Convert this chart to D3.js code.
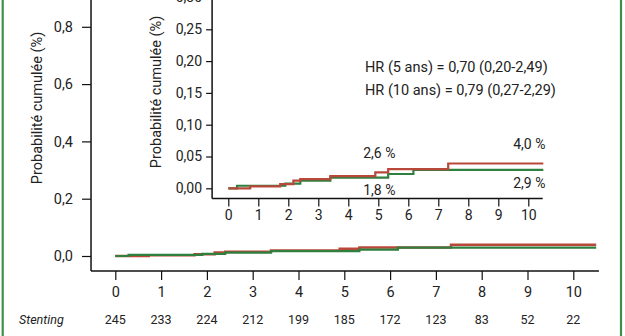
<!DOCTYPE html>
<html>
<head>
<meta charset="utf-8">
<script src="https://cdn.jsdelivr.net/npm/d3@7"></script>
<style>
  html, body { margin: 0; padding: 0; background: #fff; }
  svg { display: block; }
  text { font-family: Roboto, "DejaVu Sans", sans-serif; fill: #222; }
</style>
</head>
<body>
<svg id="chart" width="625" height="336"></svg>
<script>
// ---- Data ----
const years = [0, 1, 2, 3, 4, 5, 6, 7, 8, 9, 10];
const stentingAtRisk = [245, 233, 224, 212, 199, 185, 172, 123, 83, 52, 22];
const mainYTicks = [0, 0.2, 0.4, 0.6, 0.8];
const insetYTicks = [0, 0.05, 0.10, 0.15, 0.20, 0.25, 0.30];
const followUpEnd = 10.5;

const redTimes  = [0, 0.73, 1.73, 2.17, 2.4, 3.4, 4.9, 5.33, 7.33];
const redValues = [0, 0.003, 0.0065, 0.012, 0.0145, 0.019, 0.025, 0.030, 0.039];
const greenTimes  = [0, 0.29, 1.9, 2.4, 3.4, 5.33, 6.17];
const greenValues = [0, 0.004, 0.0075, 0.012, 0.0168, 0.0225, 0.029];

const hrLines = ["HR (5 ans) = 0,70 (0,20-2,49)", "HR (10 ans) = 0,79 (0,27-2,29)"];
const rowLabel = "Stenting";
const yTitle = "Probabilité cumulée (%)";
const curveLabels = [
  {t: 5, v: 0.026, text: "2,6 %", pos: "above"},
  {t: 5, v: 0.018, text: "1,8 %", pos: "below"},
  {t: 10, v: 0.040, text: "4,0 %", pos: "above"},
  {t: 10, v: 0.029, text: "2,9 %", pos: "below"}
];

const RED = "#b8483a", GREEN = "#2f7f3e", FRAME = "#3f8f4a";
const fr = d3.formatLocale({decimal: ",", thousands: " ", grouping: [3], currency: ["", "€"]});
const f1 = fr.format(".1f"), f2 = fr.format(".2f");

const svg = d3.select("#chart");
svg.append("rect").attr("width", 625).attr("height", 336).attr("fill", "#fff");

function steps(times, values) {
  const pts = times.map((t, i) => [t, values[i]]);
  pts.push([followUpEnd, values[values.length - 1]]);
  return pts;
}

// ---- Main chart scales ----
const xMain = d3.scaleLinear().domain([0, 10]).range([115.3, 573.3]);
const yMain = d3.scaleLinear().domain([0, 1]).range([256, -30.5]);

const gMain = svg.append("g");
gMain.append("line").attr("x1", xMain(-0.53)).attr("x2", xMain(-0.53))
  .attr("y1", yMain(1.2)).attr("y2", 271).attr("stroke", "#111").attr("stroke-width", 1.5);
gMain.append("line").attr("x1", xMain(-0.53)).attr("x2", xMain(10.56))
  .attr("y1", 271).attr("y2", 271).attr("stroke", "#111").attr("stroke-width", 1.5);

const yAx = gMain.append("g").attr("transform", `translate(${xMain(-0.53)},0)`)
  .call(d3.axisLeft(yMain).tickValues(mainYTicks).tickSize(9).tickPadding(9).tickFormat(f1));
yAx.select(".domain").remove();
yAx.selectAll("line").attr("stroke", "#111").attr("stroke-width", 1.2);
yAx.selectAll("text").attr("font-size", 14.5).attr("fill", "#222").attr("font-family", "Roboto, sans-serif");

const xAx = gMain.append("g").attr("transform", "translate(0,271)")
  .call(d3.axisBottom(xMain).tickValues(years).tickSize(9).tickPadding(7).tickFormat(d3.format("d")));
xAx.select(".domain").remove();
xAx.selectAll("line").attr("stroke", "#111").attr("stroke-width", 1.2);
xAx.selectAll("text").attr("font-size", 14.5).attr("fill", "#222").attr("font-family", "Roboto, sans-serif");

svg.append("text").attr("transform", "translate(42,108) rotate(-90)")
  .attr("text-anchor", "middle").attr("font-size", 14.5).text(yTitle);

const lineMain = d3.line().x(d => xMain(d[0])).y(d => yMain(d[1])).curve(d3.curveStepAfter);
gMain.append("path").datum(steps(redTimes, redValues)).attr("d", lineMain)
  .attr("fill", "none").attr("stroke", RED).attr("stroke-width", 2.5);
gMain.append("path").datum(steps(greenTimes, greenValues)).attr("d", lineMain)
  .attr("fill", "none").attr("stroke", GREEN).attr("stroke-width", 2.2);

svg.append("text").attr("x", 19).attr("y", 324).attr("font-size", 12.5)
  .attr("font-style", "italic").text(rowLabel);
svg.selectAll("text.risk").data(years).join("text").attr("class", "risk")
  .attr("x", d => xMain(d)).attr("y", 324).attr("text-anchor", "middle")
  .attr("font-size", 12.5).text((d, i) => stentingAtRisk[i]);

// ---- Inset chart ----
const xIn = d3.scaleLinear().domain([0, 10]).range([228.3, 528.3]);
const yIn = d3.scaleLinear().domain([0, 0.30]).range([188.3, -2.5]);
const gIn = svg.append("g");
gIn.append("line").attr("x1", xIn(-0.54)).attr("x2", xIn(-0.54))
  .attr("y1", yIn(0.35)).attr("y2", 198.5).attr("stroke", "#111").attr("stroke-width", 1.5);
gIn.append("line").attr("x1", xIn(-0.54)).attr("x2", xIn(10.48))
  .attr("y1", 198.5).attr("y2", 198.5).attr("stroke", "#111").attr("stroke-width", 1.5);

const yAxIn = gIn.append("g").attr("transform", `translate(${xIn(-0.54)},0)`)
  .call(d3.axisLeft(yIn).tickValues(insetYTicks).tickSize(6).tickPadding(4).tickFormat(f2));
yAxIn.select(".domain").remove();
yAxIn.selectAll("line").attr("stroke", "#111").attr("stroke-width", 1.2);
yAxIn.selectAll("text").attr("font-size", 14).attr("fill", "#222").attr("font-family", "Roboto, sans-serif");

const xAxIn = gIn.append("g").attr("transform", "translate(0,198.5)")
  .call(d3.axisBottom(xIn).tickValues(years).tickSize(8).tickPadding(4).tickFormat(d3.format("d")));
xAxIn.select(".domain").remove();
xAxIn.selectAll("line").attr("stroke", "#111").attr("stroke-width", 1.2);
xAxIn.selectAll("text").attr("font-size", 14).attr("fill", "#222").attr("font-family", "Roboto, sans-serif");

svg.append("text").attr("transform", "translate(161,92) rotate(-90)")
  .attr("text-anchor", "middle").attr("font-size", 14.5).text(yTitle);

const lineIn = d3.line().x(d => xIn(d[0])).y(d => yIn(d[1])).curve(d3.curveStepAfter);
gIn.append("path").datum(steps(greenTimes, greenValues)).attr("d", lineIn)
  .attr("fill", "none").attr("stroke", GREEN).attr("stroke-width", 2.2);
gIn.append("path").datum(steps(redTimes, redValues)).attr("d", lineIn)
  .attr("fill", "none").attr("stroke", RED).attr("stroke-width", 2.2);

svg.selectAll("text.hr").data(hrLines).join("text").attr("class", "hr")
  .attr("x", 365).attr("y", (d, i) => 72 + i * 23).attr("font-size", 14.5).text(d => d);

svg.selectAll("text.cl").data(curveLabels).join("text").attr("class", "cl")
  .attr("x", d => xIn(d.t) + 1).attr("text-anchor", "middle")
  .attr("y", d => d.pos === "above" ? yIn(d.v) - 14 : yIn(d.v) + 18)
  .attr("font-size", 14).text(d => d.text);

// green frame
svg.append("line").attr("x1", 2.7).attr("x2", 2.7).attr("y1", 0).attr("y2", 336)
  .attr("stroke", FRAME).attr("stroke-width", 2.2);
svg.append("line").attr("x1", 621).attr("x2", 621).attr("y1", 0).attr("y2", 336)
  .attr("stroke", FRAME).attr("stroke-width", 2.2);
</script>
</body>
</html>
